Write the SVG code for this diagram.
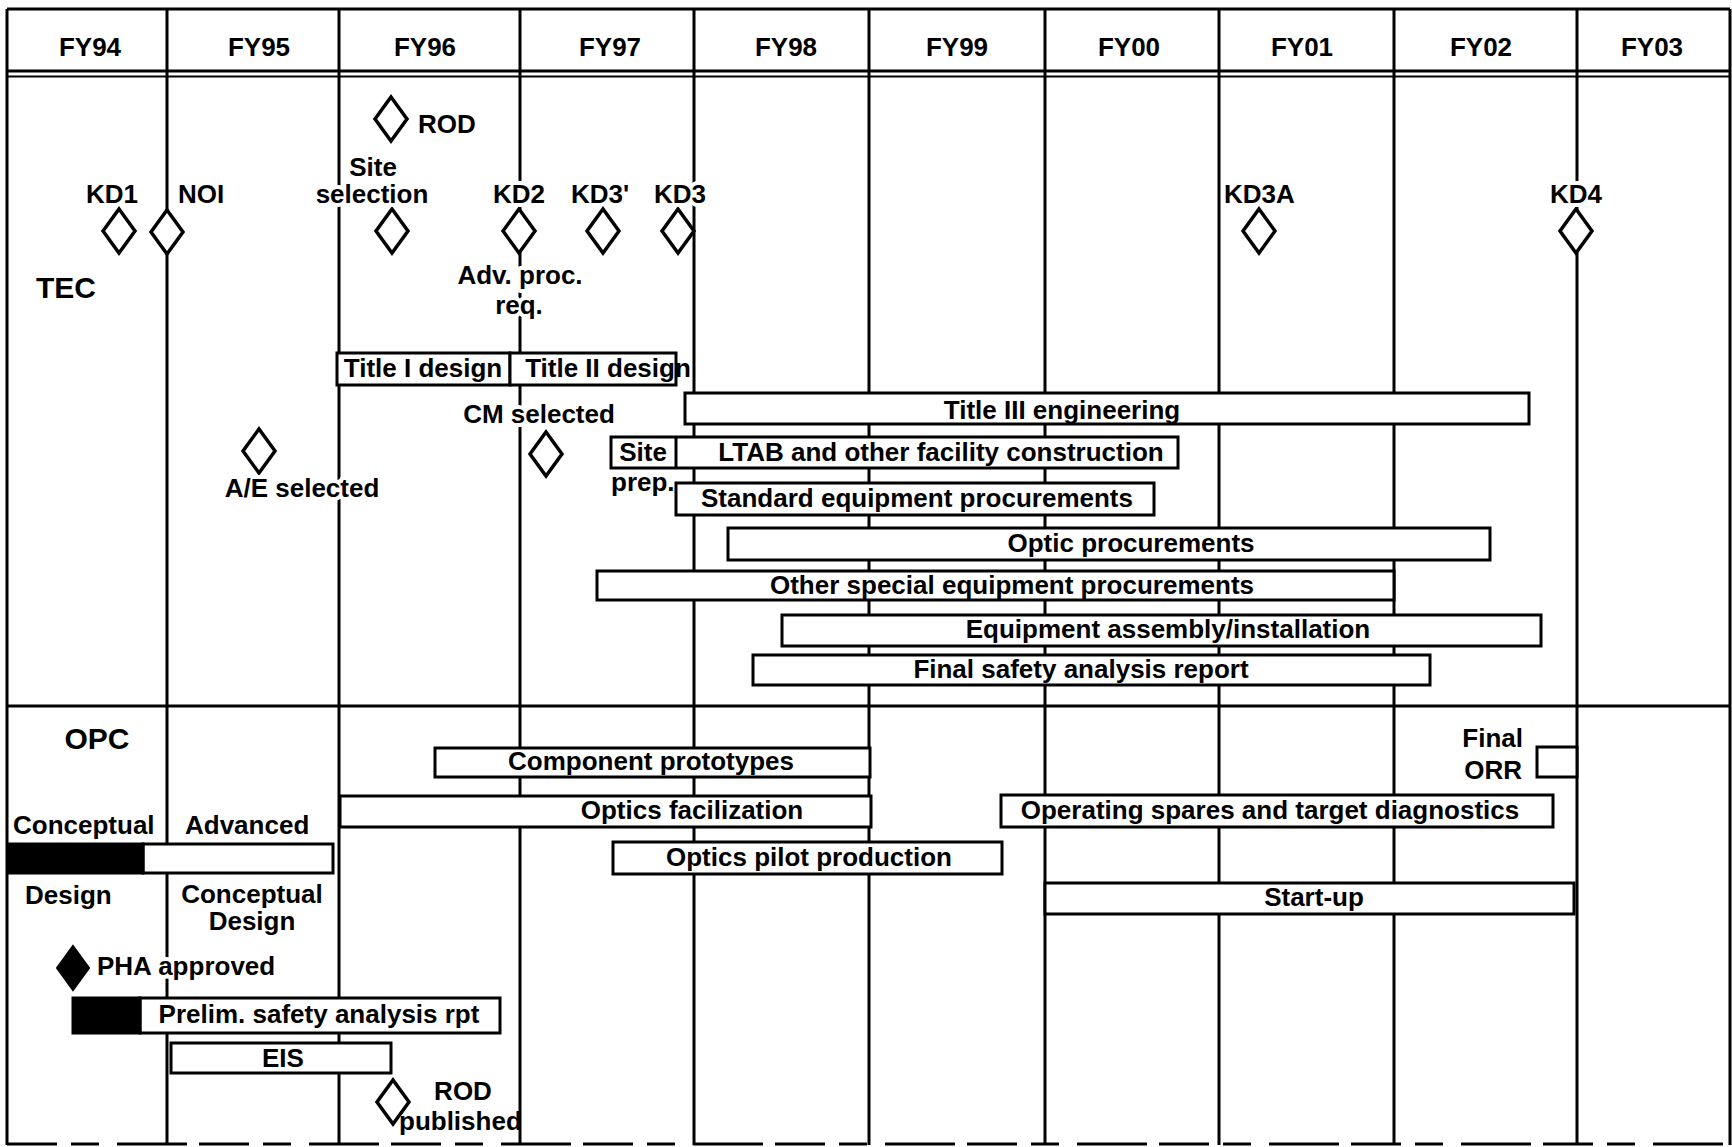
<svg xmlns="http://www.w3.org/2000/svg" width="1732" height="1147" viewBox="0 0 1732 1147">
<style>
.t{font-family:"Liberation Sans",Arial,Helvetica,sans-serif;font-weight:bold;font-size:26px;fill:#000}
.m{text-anchor:middle}
.e{text-anchor:end}
.k{paint-order:stroke;stroke:#fff;stroke-width:8px;stroke-linejoin:round}
.big{font-size:30px}
.bar{fill:#fff;stroke:#000;stroke-width:3}
.blk{fill:#000;stroke:#000;stroke-width:3}
.ms{fill:#fff;stroke:#000;stroke-width:3.5;stroke-linejoin:miter}
.msf{fill:#000;stroke:#000;stroke-width:2}
.g{stroke:#000;stroke-width:3;fill:none}
</style>
<defs>
<path id="dia" d="M0,-22 L16,0 L0,22 L-16,0 Z"/>
</defs>
<rect width="1732" height="1147" fill="#fff"/>

<g id="grid" class="g">
<line x1="7" y1="9" x2="1730" y2="9"/>
<line x1="7" y1="9" x2="7" y2="1145"/>
<line x1="1730" y1="9" x2="1730" y2="1145"/>
<line x1="7" y1="71" x2="1730" y2="71"/>
<line x1="7" y1="76.5" x2="1730" y2="76.5" stroke-width="2"/>
<line x1="167" y1="9" x2="167" y2="1145"/>
<line x1="339" y1="9" x2="339" y2="1145"/>
<line x1="520" y1="9" x2="520" y2="1145"/>
<line x1="694" y1="9" x2="694" y2="1145"/>
<line x1="869" y1="9" x2="869" y2="1145"/>
<line x1="1045" y1="9" x2="1045" y2="1145"/>
<line x1="1219" y1="9" x2="1219" y2="1145"/>
<line x1="1394" y1="9" x2="1394" y2="1145"/>
<line x1="1577" y1="9" x2="1577" y2="1145"/>
<line x1="7" y1="706" x2="1730" y2="706"/>
<line x1="7" y1="1144" x2="1730" y2="1144" stroke-dasharray="50 14 28 18 70 12"/>
</g>

<g id="header" class="t m">
<text x="90" y="56">FY94</text>
<text x="259" y="56">FY95</text>
<text x="425" y="56">FY96</text>
<text x="610" y="56">FY97</text>
<text x="786" y="56">FY98</text>
<text x="957" y="56">FY99</text>
<text x="1129" y="56">FY00</text>
<text x="1302" y="56">FY01</text>
<text x="1481" y="56">FY02</text>
<text x="1652" y="56">FY03</text>
</g>

<g id="section-labels" class="t big">
<text x="36" y="298">TEC</text>
<text x="97" y="749" class="m">OPC</text>
</g>

<!-- TEC bars -->
<g id="title-i-design"><rect class="bar" x="337" y="353" width="173" height="32"/><text class="t m" x="423" y="377">Title I design</text></g>
<g id="title-ii-design"><rect class="bar" x="510" y="353" width="166" height="32"/><text class="t m" x="608" y="377">Title II design</text></g>
<g id="title-iii-engineering"><rect class="bar" x="685" y="393" width="844" height="31"/><text class="t m" x="1062" y="419">Title III engineering</text></g>
<g id="site-prep-ltab"><rect class="bar" x="611" y="437" width="567" height="31"/><line class="g" x1="676" y1="437" x2="676" y2="468"/><text class="t m" x="643" y="461">Site</text><text class="t m" x="941" y="461">LTAB and other facility construction</text></g>
<g id="prep-label"><text class="t" x="611" y="491">prep.</text></g>
<g id="standard-equipment"><rect class="bar" x="676" y="483" width="478" height="32"/><text class="t m" x="917" y="507">Standard equipment procurements</text></g>
<g id="optic-procurements"><rect class="bar" x="728" y="528" width="762" height="32"/><text class="t m" x="1131" y="552">Optic procurements</text></g>
<g id="other-special"><rect class="bar" x="597" y="571" width="797" height="29"/><text class="t m" x="1012" y="594">Other special equipment procurements</text></g>
<g id="equipment-assembly"><rect class="bar" x="782" y="615" width="759" height="31"/><text class="t m" x="1168" y="638">Equipment assembly/installation</text></g>
<g id="final-safety"><rect class="bar" x="753" y="655" width="677" height="30"/><text class="t m" x="1081" y="678">Final safety analysis report</text></g>

<!-- OPC bars -->
<g id="component-prototypes"><rect class="bar" x="435" y="748" width="435" height="29"/><text class="t m" x="651" y="770">Component prototypes</text></g>
<g id="optics-facilization"><rect class="bar" x="340" y="796" width="531" height="31"/><text class="t m" x="692" y="819">Optics facilization</text></g>
<g id="optics-pilot"><rect class="bar" x="613" y="842" width="389" height="32"/><text class="t m" x="809" y="866">Optics pilot production</text></g>
<g id="operating-spares"><rect class="bar" x="1001" y="795" width="552" height="32"/><text class="t m" x="1270" y="819">Operating spares and target diagnostics</text></g>
<g id="start-up"><rect class="bar" x="1045" y="883" width="529" height="31"/><text class="t m" x="1314" y="906">Start-up</text></g>
<g id="final-orr"><rect class="bar" x="1537" y="747" width="40" height="30"/><text class="t e" x="1523" y="747">Final</text><text class="t e" x="1522" y="779">ORR</text></g>
<g id="conceptual-design"><rect class="bar" x="143" y="844" width="190" height="29"/><rect class="blk" x="8" y="844" width="135" height="29"/>
<text class="t" x="13" y="834">Conceptual</text><text class="t" x="185" y="834">Advanced</text>
<text class="t" x="25" y="904">Design</text>
<text class="t m" x="252" y="903">Conceptual</text><text class="t m" x="252" y="930">Design</text></g>
<g id="prelim-safety"><rect class="bar" x="140" y="998" width="360" height="35"/><rect class="blk" x="73" y="998" width="67" height="35"/><text class="t m" x="319" y="1023">Prelim. safety analysis rpt</text></g>
<g id="eis"><rect class="bar" x="171" y="1043" width="220" height="30"/><text class="t m" x="283" y="1067">EIS</text></g>

<!-- milestones -->
<g id="ms-rod"><use href="#dia" class="ms" x="391" y="119"/><text class="t" x="418" y="133">ROD</text></g>
<g id="ms-kd1"><use href="#dia" class="ms" x="119" y="231"/><text class="t m" x="112" y="203">KD1</text></g>
<g id="ms-noi"><use href="#dia" class="ms" x="167" y="232"/><text class="t" x="178" y="203">NOI</text></g>
<g id="ms-site-selection"><use href="#dia" class="ms" x="392" y="231"/><text class="t m k" x="373" y="176">Site</text><text class="t m k" x="372" y="203">selection</text></g>
<g id="ms-kd2"><use href="#dia" class="ms" x="519" y="231"/><text class="t m k" x="519" y="203">KD2</text><text class="t m k" x="520" y="284">Adv. proc.</text><text class="t m k" x="519" y="314">req.</text></g>
<g id="ms-kd3p"><use href="#dia" class="ms" x="603" y="231"/><text class="t m" x="600" y="203">KD3'</text></g>
<g id="ms-kd3"><use href="#dia" class="ms" x="678" y="231"/><text class="t m k" x="680" y="203">KD3</text></g>
<g id="ms-kd3a"><use href="#dia" class="ms" x="1259" y="231"/><text class="t" x="1224" y="203">KD3A</text></g>
<g id="ms-kd4"><use href="#dia" class="ms" x="1576" y="231"/><text class="t m k" x="1576" y="203">KD4</text></g>
<g id="ms-cm-selected"><use href="#dia" class="ms" x="546" y="454"/><text class="t m k" x="539" y="423">CM selected</text></g>
<g id="ms-ae-selected"><use href="#dia" class="ms" x="259" y="451"/><text class="t m k" x="302" y="497">A/E selected</text></g>
<g id="ms-pha"><use href="#dia" class="msf" x="73" y="968"/><text class="t k" x="97" y="975">PHA approved</text></g>
<g id="ms-rod-published"><use href="#dia" class="ms" x="393" y="1102"/><text class="t m" x="463" y="1100">ROD</text><text class="t" x="399" y="1130">published</text></g>
</svg>
